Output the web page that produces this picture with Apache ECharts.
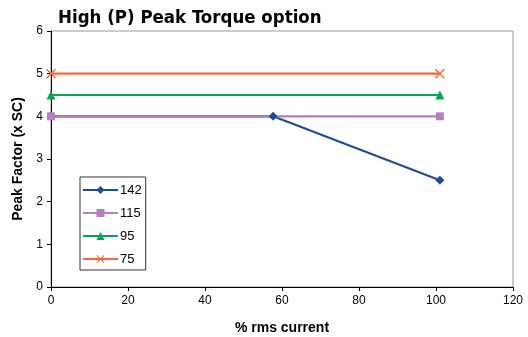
<!DOCTYPE html>
<html>
<head>
<meta charset="utf-8">
<script src="https://cdn.jsdelivr.net/npm/echarts@6/dist/echarts.min.js"></script>
<style>
  html, body { margin: 0; padding: 0; background: #fff; }
  #chart { width: 528px; height: 337px; }
</style>
</head>
<body>
<div id="chart"></div>
<script>
// data
const seriesNames = ['142', '115', '95', '75'];
const s142 = [[0, 4], [57.7, 4], [101, 2.5]];
const s115 = [[0, 4], [101, 4]];
const s95 = [[0, 4.5], [101, 4.5]];
const s75 = [[0, 5], [101, 5]];
const xTicks = [0, 20, 40, 60, 80, 100, 120];
const yTicks = [0, 1, 2, 3, 4, 5, 6];

const colors = ['#1F4A94', '#B57EBE', '#00A84F', '#F26A2E'];
const symbols = ['diamond', 'rect', 'triangle',
  'path://M0,1L1,0L5,4L9,0L10,1L6,5L10,9L9,10L5,6L1,10L0,9L4,5Z'];
const symbolSizes = [9, 8, 9, 10];
const allData = [s142, s115, s95, s75];

const chart = echarts.init(document.getElementById('chart'));

let series = [];
for (let i = 0; i < seriesNames.length; i++) {
  series.push({
    name: seriesNames[i],
    type: 'line',
    data: allData[i],
    symbol: symbols[i],
    symbolSize: symbolSizes[i],
    showAllSymbol: true,
    lineStyle: { color: colors[i], width: 2.2 },
    itemStyle: { color: colors[i] },
    animation: false
  });
}

chart.setOption({
  animation: false,
  title: {
    text: 'High (P) Peak Torque option',
    left: 53,
    top: 4,
    textStyle: {
      fontFamily: 'DejaVu Sans Condensed',
      fontWeight: 'bold',
      fontSize: 18.5,
      color: '#000'
    }
  },
  legend: {
    orient: 'vertical',
    left: 80,
    top: 177,
    data: seriesNames,
    itemWidth: 35,
    itemHeight: 10,
    itemGap: 9,
    padding: [6, 4, 4, 2],
    borderColor: '#333',
    borderWidth: 1,
    textStyle: {
      fontFamily: 'Liberation Sans', fontSize: 13, lineHeight: 14,
      color: '#000', padding: [0, 0, 0, -3]
    }
  },
  grid: {
    left: 51,
    right: 15,
    top: 31,
    bottom: 50,
    containLabel: false,
    outerBoundsMode: 'none',
    show: true,
    borderColor: '#999',
    borderWidth: 1
  },
  xAxis: {
    type: 'value',
    min: xTicks[0],
    max: xTicks[xTicks.length - 1],
    interval: 20,
    name: '% rms current',
    nameLocation: 'middle',
    nameGap: 34,
    nameTextStyle: { fontFamily: 'Liberation Sans', fontWeight: 'bold', fontSize: 14, color: '#000' },
    axisLine: { lineStyle: { color: '#000', width: 1 } },
    axisTick: { show: true, inside: false, length: 4, lineStyle: { color: '#000' } },
    axisLabel: { fontFamily: 'Liberation Sans', fontSize: 12, color: '#000', margin: 8 },
    splitLine: { show: false }
  },
  yAxis: {
    type: 'value',
    min: yTicks[0],
    max: yTicks[yTicks.length - 1],
    interval: 1,
    name: 'Peak Factor (x SC)',
    nameLocation: 'middle',
    nameGap: 25,
    nameTextStyle: { fontFamily: 'Liberation Sans', fontWeight: 'bold', fontSize: 14, color: '#000' },
    axisLine: { show: true, lineStyle: { color: '#000', width: 1 } },
    axisTick: { show: true, inside: false, length: 4, lineStyle: { color: '#000' } },
    axisLabel: { fontFamily: 'Liberation Sans', fontSize: 12, color: '#000', margin: 8 },
    splitLine: { show: false }
  },
  series: series
});
</script>
</body>
</html>
